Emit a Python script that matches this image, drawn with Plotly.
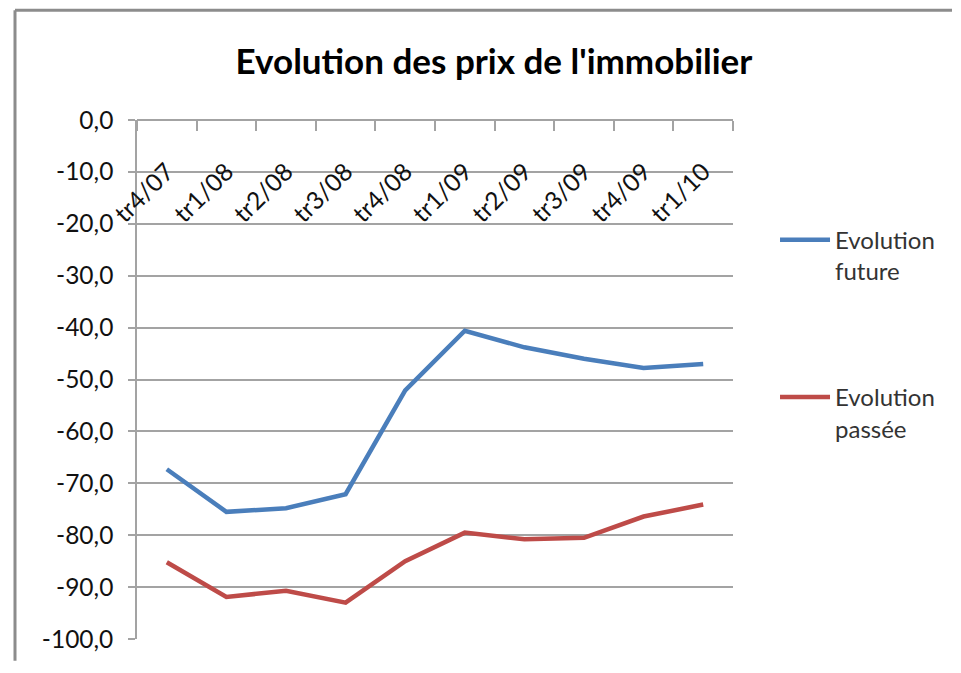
import plotly.graph_objects as go

categories = ["tr4/07", "tr1/08", "tr2/08", "tr3/08", "tr4/08",
              "tr1/09", "tr2/09", "tr3/09", "tr4/09", "tr1/10"]
evolution_future = [-67.3, -75.5, -74.8, -72.1, -52.1, -40.6, -43.8, -46.0, -47.8, -47.0]
evolution_passee = [-85.2, -91.9, -90.7, -93.0, -85.0, -79.5, -80.8, -80.5, -76.4, -74.1]
y_tick_values = [0, -10, -20, -30, -40, -50, -60, -70, -80, -90, -100]
y_tick_labels = ["0,0", "-10,0", "-20,0", "-30,0", "-40,0", "-50,0",
                 "-60,0", "-70,0", "-80,0", "-90,0", "-100,0"]

FONT = "Lato, 'Open Sans', sans-serif"
GRID = "#a3a3a3"

# page body has an 8px margin: the figure is drawn from (8, 8)
W, H = 945, 657
L, T, PW, PH = 129, 112, 596, 522

fig = go.Figure()
fig.add_trace(go.Scatter(x=categories, y=evolution_future, mode="lines",
                         name="Evolution<br>future", legendgroup="a",
                         line=dict(color="#4a7ebb", width=4.5)))
fig.add_trace(go.Scatter(x=categories, y=evolution_passee, mode="lines",
                         name="Evolution<br>passée", legendgroup="b",
                         line=dict(color="#be4b48", width=4.5)))

fig.update_layout(
    width=W, height=H,
    margin=dict(l=L, r=W - L - PW, t=T, b=H - T - PH),
    paper_bgcolor="white", plot_bgcolor="white",
    font=dict(family=FONT, color="#1a1a1a"),
    title=dict(text="<b>Evolution des prix de l'immobilier</b>",
               font=dict(family=FONT, size=35, color="#000000"),
               xref="container", x=(494 - 8) / W, xanchor="center",
               yref="container", y=1 - (62 - 8) / H, yanchor="middle"),
    showlegend=True,
    legend=dict(x=1.0705, xanchor="left", y=0.812, yanchor="top",
                itemwidth=50,
                font=dict(family=FONT, size=24, color="#333333"),
                tracegroupgap=92, valign="top", bgcolor="rgba(0,0,0,0)"),
    xaxis=dict(type="category", range=[-0.5, 9.5], anchor="free", position=1,
               side="bottom", showgrid=False, showline=True, linecolor=GRID,
               linewidth=1.5, ticks="outside", ticklen=10, tickcolor=GRID,
               tickwidth=1.5, tickson="boundaries", tickangle=-45,
               ticklabelstandoff=27,
               tickfont=dict(family=FONT, size=24.5, color="#111111")),
    yaxis=dict(range=[-100, 0], tickvals=y_tick_values, ticktext=y_tick_labels,
               showgrid=True, gridcolor=GRID, gridwidth=1.5, zeroline=False,
               showline=True, linecolor=GRID, linewidth=1.5,
               ticks="outside", ticklen=7, tickcolor=GRID, tickwidth=1.5,
               ticklabelstandoff=10,
               tickfont=dict(family=FONT, size=24.5, color="#111111")),
)

# chart frame: left side and top side
fx0 = (15 - 137) / PW
fx1 = (952 - 137) / PW
fy0 = (642 - 664) / PH
fy1 = (642 - 9.5) / PH
fig.add_shape(type="line", xref="paper", yref="paper",
              x0=fx0, x1=fx0, y0=fy0, y1=fy1,
              line=dict(color="#8c8c8c", width=3), layer="below")
fig.add_shape(type="line", xref="paper", yref="paper",
              x0=fx0, x1=fx1, y0=fy1, y1=fy1,
              line=dict(color="#8c8c8c", width=3), layer="below")

fig.write_html("out.html")
